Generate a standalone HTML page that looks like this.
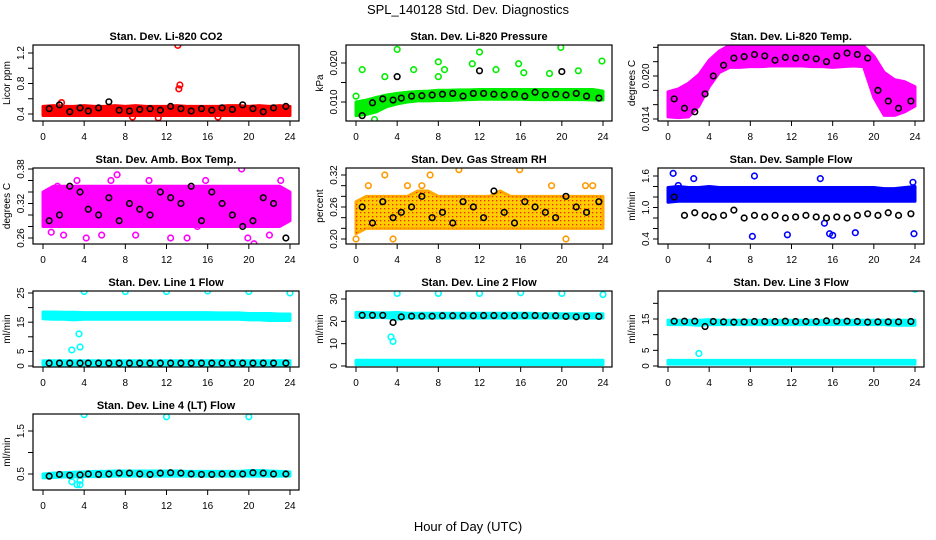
<!DOCTYPE html>
<html><head><meta charset="utf-8">
<style>
body{margin:0;background:#fff;}
svg{display:block;font-family:"Liberation Sans",Arial,sans-serif;}
</style></head>
<body>
<svg id="chart" width="936" height="540" viewBox="0 0 936 540" xmlns="http://www.w3.org/2000/svg">
<rect width="936" height="540" fill="#fff"/>
<text x="468" y="14" text-anchor="middle" font-size="13">SPL_140128  Std. Dev. Diagnostics</text>
<text x="468" y="531" text-anchor="middle" font-size="13">Hour of Day (UTC)</text>
</svg>
<script>
const hours = [0,1,2,3,4,5,6,7,8,9,10,11,12,13,14,15,16,17,18,19,20,21,22,23,24];
const blackHours = [0.6,1.6,2.6,3.6,4.4,5.4,6.4,7.4,8.4,9.4,10.4,11.4,12.4,13.4,14.4,15.4,16.4,17.4,18.4,19.4,20.4,21.4,22.4,23.6];
const xTicks = [0,4,8,12,16,20,24];

// CO2
const co2Lo = [0.38,0.38,0.38,0.38,0.38,0.38,0.38,0.38,0.38,0.38,0.38,0.38,0.38,0.38,0.38,0.38,0.38,0.38,0.38,0.38,0.38,0.38,0.38,0.38,0.38];
const co2Hi = [0.50,0.51,0.50,0.50,0.51,0.50,0.50,0.51,0.50,0.51,0.50,0.50,0.50,0.51,0.50,0.50,0.50,0.50,0.51,0.51,0.50,0.51,0.50,0.51,0.50];
const co2Black = [0.47,0.52,0.43,0.48,0.44,0.48,0.56,0.45,0.44,0.46,0.47,0.45,0.50,0.47,0.44,0.47,0.45,0.48,0.46,0.52,0.47,0.43,0.48,0.50];
const co2Out = [[13.1,1.30],[13.3,0.78],[13.2,0.73],[1.8,0.55],[8.7,0.36],[11.2,0.35],[17.0,0.36]];
// Pressure
const prLo = [0.0065,0.0068,0.0075,0.0088,0.0095,0.0100,0.0103,0.0103,0.0104,0.0104,0.0105,0.0106,0.0107,0.0107,0.0107,0.0107,0.0107,0.0106,0.0106,0.0106,0.0106,0.0106,0.0106,0.0105,0.0105];
const prHi = [0.0100,0.0105,0.0112,0.0118,0.0122,0.0125,0.0127,0.0128,0.0130,0.0130,0.0131,0.0131,0.0132,0.0132,0.0132,0.0132,0.0132,0.0132,0.0132,0.0132,0.0132,0.0132,0.0132,0.0132,0.0128];
const prBlack = [0.0065,0.0098,0.0108,0.0105,0.0110,0.0115,0.0116,0.0118,0.0120,0.0122,0.0115,0.0122,0.0122,0.0120,0.0118,0.0120,0.0115,0.0125,0.0118,0.0120,0.0118,0.0122,0.0115,0.0110];
const prOut = [[0,0.0115],[0.6,0.0183],[2.8,0.0165],[4,0.0235],[5.6,0.0183],[8,0.0203],[8,0.0165],[8.6,0.0183],[11.3,0.0198],[12,0.0228],[13.6,0.0183],[15.8,0.0198],[16.3,0.0175],[18.8,0.0173],[19.9,0.0240],[21.6,0.0180],[23.9,0.0205],[1.8,0.0055]];
const prBlackOut = [[4,0.0165],[12,0.0180],[20,0.0178]];
// Li-820 temp
const tLo = [0.0143,0.0142,0.0143,0.0158,0.0185,0.0205,0.0212,0.0212,0.0213,0.0213,0.0214,0.0214,0.0214,0.0214,0.0213,0.0213,0.0212,0.0213,0.0214,0.0213,0.0170,0.0145,0.0145,0.0150,0.0158];
const tHi = [0.0178,0.0182,0.0190,0.0202,0.0222,0.0235,0.0243,0.0244,0.0244,0.0244,0.0244,0.0244,0.0244,0.0244,0.0244,0.0244,0.0244,0.0244,0.0243,0.0242,0.0228,0.0205,0.0195,0.0192,0.0185];
const tBlack = [0.0168,0.0155,0.0150,0.0175,0.0200,0.0215,0.0225,0.0227,0.0230,0.0228,0.0222,0.0226,0.0225,0.0226,0.0224,0.0220,0.0228,0.0232,0.0230,0.0225,0.0180,0.0165,0.0155,0.0165];
// Amb box temp
const aLo = [0.28,0.28,0.28,0.28,0.28,0.28,0.28,0.28,0.28,0.28,0.28,0.28,0.28,0.28,0.28,0.28,0.28,0.28,0.28,0.28,0.28,0.28,0.28,0.28,0.29];
const aHi = [0.34,0.35,0.35,0.35,0.35,0.35,0.35,0.35,0.35,0.35,0.35,0.35,0.35,0.35,0.35,0.35,0.35,0.35,0.35,0.35,0.35,0.35,0.35,0.35,0.34];
const aBlack = [0.29,0.30,0.35,0.34,0.31,0.30,0.33,0.29,0.32,0.31,0.30,0.34,0.33,0.32,0.35,0.29,0.34,0.32,0.30,0.28,0.29,0.33,0.32,0.26];
const aOut = [[0.8,0.27],[1.4,0.35],[2.0,0.265],[3.3,0.36],[4.2,0.26],[5.7,0.265],[6.6,0.36],[7.2,0.37],[9.0,0.265],[10.3,0.36],[12.4,0.26],[14.0,0.26],[15.8,0.36],[19.3,0.38],[19.9,0.26],[20.5,0.25],[22.0,0.265],[23.1,0.36],[15.0,0.28]];
// RH
const rLo = [0.21,0.22,0.22,0.22,0.22,0.22,0.22,0.22,0.22,0.22,0.22,0.22,0.22,0.22,0.22,0.22,0.22,0.22,0.22,0.22,0.22,0.22,0.22,0.22,0.22];
const rHi = [0.27,0.28,0.28,0.28,0.28,0.28,0.29,0.29,0.28,0.28,0.28,0.28,0.28,0.28,0.29,0.28,0.28,0.28,0.28,0.28,0.28,0.28,0.28,0.28,0.28];
const rBlack = [0.26,0.23,0.27,0.24,0.25,0.26,0.28,0.24,0.25,0.23,0.27,0.26,0.24,0.29,0.25,0.23,0.27,0.26,0.25,0.24,0.28,0.26,0.25,0.27];
const rOut = [[0,0.20],[1.2,0.30],[2.8,0.32],[3.6,0.20],[5.0,0.30],[6.4,0.30],[7.2,0.32],[10.0,0.33],[15.9,0.33],[19.0,0.30],[20.4,0.20],[22.3,0.30],[23.0,0.30]];
// Sample flow
const sLo = [1.10,1.12,1.12,1.12,1.12,1.12,1.12,1.12,1.12,1.12,1.12,1.12,1.12,1.12,1.12,1.12,1.12,1.12,1.12,1.12,1.12,1.12,1.12,1.12,1.12];
const sHi = [1.38,1.40,1.38,1.38,1.40,1.38,1.38,1.38,1.38,1.38,1.38,1.38,1.38,1.38,1.38,1.38,1.38,1.38,1.38,1.38,1.38,1.36,1.36,1.38,1.40];
const sBlack = [1.2,0.85,0.9,0.85,0.82,0.85,0.95,0.80,0.85,0.82,0.85,0.80,0.82,0.85,0.82,0.80,0.82,0.80,0.85,0.88,0.85,0.90,0.85,0.88];
const sOut = [[0.5,1.65],[2.5,1.55],[8.2,0.45],[8.4,1.6],[11.6,0.48],[14.8,1.55],[15.2,0.7],[15.7,0.50],[16.0,0.47],[18.2,0.52],[23.9,0.50],[23.8,1.48],[1.0,1.42]];
// Line 1
const l1Lo = [16.2,16.0,16.0,15.8,16.0,16.0,16.0,16.0,16.0,16.0,16.0,16.0,16.0,16.0,16.0,16.0,16.0,16.0,16.0,16.0,15.8,15.8,15.6,15.6,15.6];
const l1Hi = [18.5,18.5,18.4,18.4,18.3,18.3,18.3,18.3,18.3,18.3,18.3,18.3,18.3,18.3,18.3,18.3,18.3,18.2,18.2,18.2,18.0,18.0,18.0,17.8,17.8];
const l1LowLo = [0.4,0.4,0.4,0.4,0.4,0.4,0.4,0.4,0.4,0.4,0.4,0.4,0.4,0.4,0.4,0.4,0.4,0.4,0.4,0.4,0.4,0.4,0.4,0.4,0.4];
const l1LowHi = [1.8,1.8,1.8,1.8,1.8,1.8,1.8,1.8,1.8,1.8,1.8,1.8,1.8,1.8,1.8,1.8,1.8,1.8,1.8,1.8,1.8,1.8,1.8,1.8,1.8];
const l1Black = [1.0,1.0,1.0,1.0,1.0,1.0,1.0,1.0,1.0,1.0,1.0,1.0,1.0,1.0,1.0,1.0,1.0,1.0,1.0,1.0,1.0,1.0,1.0,1.0];
const l1Out = [[4,25.5],[8,25.5],[12,25.5],[16,25.7],[20,25.5],[24,25.0],[2.8,5.5],[3.5,11],[3.6,6.5]];
// Line 2
const l2Lo = [21.8,21.8,21.8,21.6,21.0,21.5,21.5,21.5,21.5,21.5,21.5,21.5,21.5,21.5,21.5,21.5,21.5,21.5,21.5,21.5,21.5,21.5,21.5,21.5,21.5];
const l2Hi = [24.0,24.0,23.8,23.8,24.0,23.6,23.6,23.6,23.6,23.6,23.6,23.6,23.6,23.6,23.6,23.6,23.6,23.6,23.4,23.4,23.4,23.4,23.4,23.4,23.4];
const l2LowLo = [0.6,0.6,0.6,0.6,0.6,0.6,0.6,0.6,0.6,0.6,0.6,0.6,0.6,0.6,0.6,0.6,0.6,0.6,0.6,0.6,0.6,0.6,0.6,0.6,0.6];
const l2LowHi = [2.6,2.6,2.6,2.6,2.6,2.6,2.6,2.6,2.6,2.6,2.6,2.6,2.6,2.6,2.6,2.6,2.6,2.6,2.6,2.6,2.6,2.6,2.6,2.6,2.6];
const l2Black = [22.7,22.7,22.7,19.5,22.0,22.3,22.3,22.3,22.5,22.5,22.5,22.5,22.6,22.6,22.5,22.5,22.6,22.6,22.5,22.5,22.2,22.0,22.2,22.2];
const l2Out = [[4,32.5],[8,32.5],[12,32.5],[16,32.8],[20,32.5],[24,32.0],[3.4,13],[3.6,11]];
// Line 3
const l3Lo = [13.2,13.2,13.2,13.0,13.2,13.2,13.2,13.2,13.2,13.2,13.2,13.2,13.2,13.2,13.2,13.2,13.2,13.2,13.2,13.2,13.2,13.2,13.0,13.0,13.0];
const l3Hi = [14.6,14.6,14.6,14.6,14.8,14.6,14.6,14.6,14.6,14.6,14.6,14.6,14.6,14.6,14.6,14.6,14.6,14.6,14.6,14.6,14.6,14.6,14.6,14.6,14.6];
const l3LowLo = [0.6,0.6,0.6,0.6,0.6,0.6,0.6,0.6,0.6,0.6,0.6,0.6,0.6,0.6,0.6,0.6,0.6,0.6,0.6,0.6,0.6,0.6,0.6,0.6,0.6];
const l3LowHi = [1.8,1.8,1.8,1.8,1.8,1.8,1.8,1.8,1.8,1.8,1.8,1.8,1.8,1.8,1.8,1.8,1.8,1.8,1.8,1.8,1.8,1.8,1.8,1.8,1.8];
const l3Black = [14.3,14.3,14.3,12.6,14.2,14.1,14.0,14.1,14.2,14.2,14.2,14.3,14.2,14.2,14.2,14.4,14.3,14.3,14.2,14.0,14.1,14.1,14.1,14.2];
const l3Out = [[4,25],[8,25],[12,25.3],[16,25.2],[20,25],[24,24.5],[3.0,4.0]];
// Line 4
const l4Lo = [0.41,0.42,0.43,0.43,0.44,0.44,0.44,0.45,0.45,0.45,0.45,0.45,0.45,0.45,0.45,0.45,0.45,0.45,0.45,0.45,0.45,0.45,0.45,0.45,0.45];
const l4Hi = [0.50,0.52,0.53,0.54,0.55,0.56,0.56,0.57,0.57,0.57,0.57,0.57,0.57,0.57,0.56,0.56,0.56,0.56,0.56,0.56,0.58,0.58,0.57,0.56,0.55];
const l4Black = [0.45,0.49,0.47,0.48,0.50,0.49,0.50,0.52,0.52,0.50,0.49,0.52,0.53,0.52,0.50,0.49,0.49,0.50,0.50,0.50,0.53,0.52,0.50,0.50];
const l4Out = [[4,1.88],[12,1.83],[20,1.83],[2.8,0.32],[3.3,0.25],[3.6,0.35],[3.6,0.25]];

const NS = "http://www.w3.org/2000/svg";
const svg = document.getElementById('chart');
function mk(tag, attrs, parent){
  const e = document.createElementNS(NS, tag);
  for (const k in attrs) e.setAttribute(k, attrs[k]);
  (parent||svg).appendChild(e);
  return e;
}
const colLeft = [33,346,658], rowTop = [45,168,291,414];
const BW = 266, BH = 76;

const panels = [
 {id:'co2',c:0,r:0,title:'Stan. Dev. Li-820 CO2',ylab:'Licor ppm',a:[0.4,114,1.2,53],ticks:[0.4,0.6,0.8,1.0,1.2],labs:[0.4,0.8,1.2],dec:1,col:'#ff0000',bands:[[co2Lo,co2Hi]],black:co2Black,out:co2Out},
 {id:'pressure',c:1,r:0,title:'Stan. Dev. Li-820 Pressure',ylab:'kPa',a:[0.010,102,0.020,63],ticks:[0.010,0.015,0.020],labs:[0.010,0.020],dec:3,col:'#00ee00',bands:[[prLo,prHi]],black:prBlack,out:prOut,blackOut:prBlackOut},
 {id:'licor-temp',c:2,r:0,title:'Stan. Dev. Li-820 Temp.',ylab:'degrees C',a:[0.014,119,0.020,76],ticks:[0.014,0.016,0.018,0.020,0.022,0.024],labs:[0.014,0.020],dec:3,col:'#ff00ff',bands:[[tLo,tHi]],black:tBlack,out:[]},
 {id:'amb-temp',c:0,r:1,title:'Stan. Dev. Amb. Box Temp.',ylab:'degrees C',a:[0.26,238,0.38,169],ticks:[0.26,0.28,0.30,0.32,0.34,0.36,0.38],labs:[0.26,0.32,0.38],dec:2,col:'#ff00ff',bands:[[aLo,aHi]],black:aBlack,out:aOut},
 {id:'gas-rh',c:1,r:1,title:'Stan. Dev. Gas Stream RH',ylab:'percent',a:[0.20,239,0.32,175],ticks:[0.20,0.22,0.24,0.26,0.28,0.30,0.32],labs:[0.20,0.26,0.32],dec:2,col:'#ffaa00',bands:[[rLo,rHi]],black:rBlack,out:rOut},
 {id:'sample-flow',c:2,r:1,title:'Stan. Dev. Sample Flow',ylab:'ml/min',a:[0.4,239,1.6,176],ticks:[0.4,0.6,0.8,1.0,1.2,1.4,1.6],labs:[0.4,1.0,1.6],dec:1,col:'#0000ff',bands:[[sLo,sHi]],black:sBlack,out:sOut},
 {id:'line1-flow',c:0,r:2,title:'Stan. Dev. Line 1 Flow',ylab:'ml/min',a:[0,366,25,293],ticks:[0,5,10,15,20,25],labs:[0,5,15,25],dec:0,col:'#00ffff',bands:[[l1Lo,l1Hi],[l1LowLo,l1LowHi]],black:l1Black,out:l1Out},
 {id:'line2-flow',c:1,r:2,title:'Stan. Dev. Line 2 Flow',ylab:'ml/min',a:[0,366,30,299],ticks:[0,10,20,30],labs:[0,10,20,30],dec:0,col:'#00ffff',bands:[[l2Lo,l2Hi],[l2LowLo,l2LowHi]],black:l2Black,out:l2Out},
 {id:'line3-flow',c:2,r:2,title:'Stan. Dev. Line 3 Flow',ylab:'ml/min',a:[0,366,15,319],ticks:[0,5,10,15,20],labs:[0,5,15],dec:0,col:'#00ffff',bands:[[l3Lo,l3Hi],[l3LowLo,l3LowHi]],black:l3Black,out:l3Out},
 {id:'line4-flow',c:0,r:3,title:'Stan. Dev. Line 4 (LT) Flow',ylab:'ml/min',a:[0.5,474,1.5,431],ticks:[0.5,1.0,1.5],labs:[0.5,1.5],dec:1,col:'#00ffff',bands:[[l4Lo,l4Hi]],black:l4Black,out:l4Out}
];

panels.forEach(p=>{
  const L = colLeft[p.c], T = rowTop[p.r];
  const g = mk('g',{});
  
  
  const xs = h => L + 10 + h*(247/24);
  const ys = v => p.a[1] + (v - p.a[0])*(p.a[3]-p.a[1])/(p.a[2]-p.a[0]);
  const clip = 'clip-'+p.id;
  const cp = mk('clipPath',{id:clip},g);
  mk('rect',{x:L,y:T,width:BW,height:BH},cp);
  const data = mk('g',{'clip-path':'url(#'+clip+')'},g);
  p.bands.forEach((b,bi)=>{
    let pts = hours.map((h,i)=>xs(h)+','+ys(b[1][i]));
    pts = pts.concat(hours.slice().reverse().map((h,j)=>{const i=hours.length-1-j;return xs(h)+','+ys(b[0][i]);}));
    const poly = mk('polygon',{points:pts.join(' '),fill:p.col,stroke:p.col,'stroke-width':3,'stroke-linejoin':'round'},data);
    
    
    if (p.id==='gas-rh') poly.setAttribute('fill','#ffcc00');
  });
  if (p.id==='gas-rh'){
    const pat = mk('pattern',{id:'rhpat',width:4,height:4,patternUnits:'userSpaceOnUse'},g);
    mk('rect',{x:0,y:0,width:1.3,height:1.3,fill:'#ff2200'},pat);
    let pts = hours.map((h,i)=>xs(h)+','+ys(rHi[i]));
    pts = pts.concat(hours.slice().reverse().map((h,j)=>{const i=hours.length-1-j;return xs(h)+','+ys(rLo[i]);}));
    mk('polygon',{points:pts.join(' '),fill:'url(#rhpat)'},data);
  }
  (p.out||[]).forEach(o=>{
    const c = mk('circle',{cx:xs(o[0]),cy:ys(o[1]),r:2.8,fill:'none',stroke:p.id==='gas-rh'?'#ff9900':p.col,'stroke-width':1.6},data);
    
    
  });
  p.black.forEach((v,i)=>{
    const c = mk('circle',{cx:xs(blackHours[i]),cy:ys(v),r:2.8,fill:'none',stroke:'#000','stroke-width':1.6},data);
    
    
  });
  (p.blackOut||[]).forEach(o=>{
    const c = mk('circle',{cx:xs(o[0]),cy:ys(o[1]),r:2.8,fill:'none',stroke:'#000','stroke-width':1.6},data);
    
    
  });
  mk('rect',{x:L,y:T,width:BW,height:BH,fill:'none',stroke:'#000','stroke-width':1.2},g);
  const t = mk('text',{x:L+BW/2,y:T-5,'text-anchor':'middle','font-size':11,'font-weight':'bold'},g);
  t.textContent = p.title;
  
  
  mk('line',{x1:xs(0),y1:T+BH,x2:xs(24),y2:T+BH,stroke:'#000','stroke-width':1},g);
  xTicks.forEach(h=>{
    mk('line',{x1:xs(h),y1:T+BH,x2:xs(h),y2:T+BH+5,stroke:'#000','stroke-width':1},g);
    const tl = mk('text',{x:xs(h),y:T+BH+19,'text-anchor':'middle','font-size':10},g);
    tl.textContent = h;
    
    
  });
  const yt0 = ys(p.ticks[0]), yt1 = ys(p.ticks[p.ticks.length-1]);
  mk('line',{x1:L,y1:yt0,x2:L,y2:yt1,stroke:'#000','stroke-width':1},g);
  p.ticks.forEach(v=>{
    mk('line',{x1:L-5,y1:ys(v),x2:L,y2:ys(v),stroke:'#000','stroke-width':1},g);
  });
  p.labs.forEach(v=>{
    const yy = ys(v);
    const tl = mk('text',{x:L-9,y:yy,'text-anchor':'middle','font-size':10,transform:'rotate(-90 '+(L-9)+' '+yy+')'},g);
    tl.textContent = v.toFixed(p.dec);
    
    
  });
  const yl = mk('text',{x:L-23,y:T+BH/2,'text-anchor':'middle','font-size':10,transform:'rotate(-90 '+(L-23)+' '+(T+BH/2)+')'},g);
  yl.textContent = p.ylab;
  
  
});
</script>
</body></html>
